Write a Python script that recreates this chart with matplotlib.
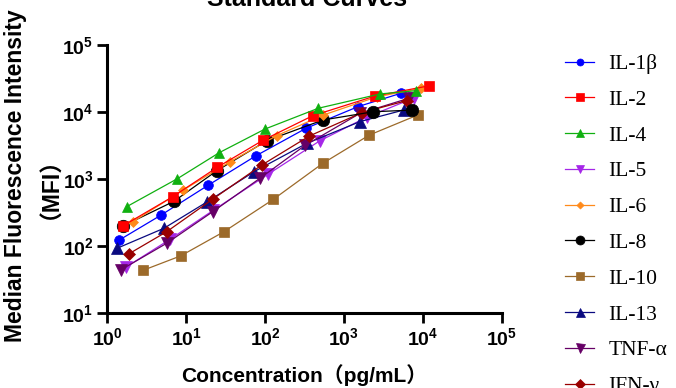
import matplotlib
matplotlib.use("Agg")
import matplotlib.pyplot as plt

# data (concentration pg/mL, MFI)
names = ["IL-1β", "IL-2", "IL-4", "IL-5", "IL-6", "IL-8", "IL-10", "IL-13", "TNF-α", "IFN-γ"]

il1b_x = [1.41, 4.73, 19, 76.7, 330, 1520, 5260]
il1b_y = [124, 290, 818, 2250, 5770, 12200, 19200]
il2_x = [1.56, 6.73, 24.7, 94.9, 402, 2480, 12100]
il2_y = [201, 550, 1510, 3860, 8900, 17500, 24900]
il4_x = [1.75, 7.69, 26.2, 100, 473, 2870, 8100]
il4_y = [390, 1020, 2500, 5640, 11500, 18800, 21000]
il5_x = [1.72, 6.2, 22, 110, 497, 1940, 7760]
il5_y = [49, 127, 345, 1200, 3770, 8450, 16400]
il6_x = [2.08, 9.16, 35.9, 140, 548, 2600, 9460]
il6_y = [231, 692, 1830, 4480, 9120, 17000, 22800]
il8_x = [1.56, 6.98, 24.3, 105, 538, 2360, 7310]
il8_y = [200, 470, 1340, 3770, 7670, 10200, 10800]
il10_x = [2.85, 8.5, 30, 127, 538, 2100, 8790]
il10_y = [44, 72, 165, 502, 1730, 4580, 9200]
il13_x = [1.31, 5.21, 18.5, 72.3, 337, 1610, 5700]
il13_y = [93, 186, 463, 1300, 3440, 7290, 10800]
tnfa_x = [1.5, 5.64, 21.6, 86, 320, 1600, 6660]
tnfa_y = [45, 111, 328, 1036, 3200, 9660, 16200]
ifng_x = [1.86, 5.63, 21.6, 90.5, 364, 1680, 6300]
ifng_y = [77, 165, 505, 1630, 4430, 9860, 15000]

xs = [il1b_x, il2_x, il4_x, il5_x, il6_x, il8_x, il10_x, il13_x, tnfa_x, ifng_x]
ys = [il1b_y, il2_y, il4_y, il5_y, il6_y, il8_y, il10_y, il13_y, tnfa_y, ifng_y]

colors = ["#0000FF", "#FF0000", "#10B010", "#A526E8", "#FF8A1A",
          "#000000", "#9C6A2A", "#0A0A80", "#660066", "#990000"]
markers = ["o", "s", "^", "v", "D", "o", "s", "^", "v", "D"]
msizes = [7, 7.5, 7.5, 8, 5, 9, 7.5, 9, 9, 6.5]
# IL-2 sits on top of IL-8 in the original
zorders = [2, 2.6, 2.7, 2, 2.5, 2.4, 2, 2, 2, 2]

plt.rcParams["mathtext.fontset"] = "custom"
plt.rcParams["mathtext.rm"] = "Liberation Sans"
plt.rcParams["mathtext.bf"] = "Liberation Sans:bold"

sans = ["Liberation Sans", "Noto Sans CJK SC"]

fig = plt.figure(figsize=(6.76, 3.88), dpi=100)
ax = fig.add_axes([0.159, 0.1925, 0.583, 0.6907])

for name, x, y, c, m, ms, z in zip(names, xs, ys, colors, markers, msizes, zorders):
    ax.plot(x, y, color=c, marker=m, markersize=ms, linewidth=0.9,
            markeredgewidth=0.5, label=name, zorder=z)

ax.set_xscale("log")
ax.set_yscale("log")
ax.set_xlim(1, 1e5)
ax.set_ylim(10, 1e5)

xticks = [1, 10, 100, 1e3, 1e4, 1e5]
yticks = [10, 100, 1e3, 1e4, 1e5]
ax.set_xticks(xticks)
ax.set_xticklabels([r"$\mathbf{10^{%d}}$" % i for i in range(6)])
ax.set_yticks(yticks)
ax.set_yticklabels([r"$\mathbf{10^{%d}}$" % i for i in range(1, 6)])
ax.minorticks_off()
ax.tick_params(length=7, width=2, labelsize=14, pad=3)

for side in ["top", "right"]:
    ax.spines[side].set_visible(False)
for side in ["left", "bottom"]:
    ax.spines[side].set_linewidth(2.2)

fig.text(307 / 676, 1 - 6 / 388, "Standard Curves", ha="center", va="baseline",
         fontsize=18, fontweight="bold", family=sans)
fig.text(304 / 676, 1 - 375 / 388, "Concentration（pg/mL）", ha="center", va="center",
         fontsize=15, fontweight="bold", family=sans)
fig.text(27 / 676, 1 - 176 / 388, "Median Fluorescence Intensity\n（MFI）",
         ha="center", va="center", rotation=90, multialignment="center",
         fontsize=16.5, fontweight="bold", family=sans, linespacing=1.05)

leg = ax.legend(loc="upper left", bbox_to_anchor=(565 / 676, 1 - 54 / 388),
                bbox_transform=fig.transFigure, frameon=False, borderpad=0,
                borderaxespad=0, handlelength=1.35, handletextpad=0.66,
                labelspacing=0.73, markerscale=0.72,
                prop={"family": "Liberation Serif", "size": 15.5})

fig.savefig("out.png", dpi=100)
